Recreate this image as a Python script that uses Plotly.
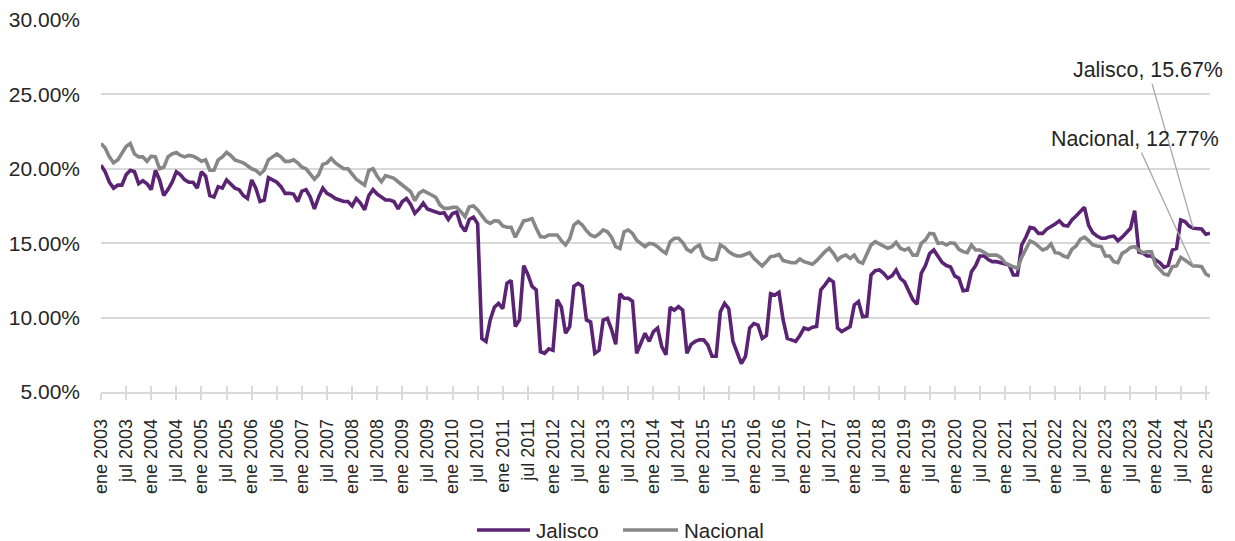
import plotly.graph_objects as go

# ---------------- data (monthly, ene 2003 - feb 2025) ----------------
start_year = 2003
n_months = 266
meses = ["ene", "feb", "mar", "abr", "may", "jun", "jul", "ago", "sep", "oct", "nov", "dic"]
months = [f"{meses[i % 12]} {start_year + i // 12}" for i in range(n_months)]
tick_labels = months[::6]

jalisco = [
    # 2003
    20.25, 19.8, 19.1, 18.7, 18.9, 18.9, 19.6, 19.9, 19.8, 19.0, 19.2, 19.0,
    # 2004
    18.6, 19.9, 19.25, 18.2, 18.6, 19.1, 19.8, 19.6, 19.25, 19.1, 19.1, 18.7,
    # 2005
    19.8, 19.5, 18.2, 18.1, 18.8, 18.7, 19.25, 19.0, 18.7, 18.6, 18.2, 18.0,
    # 2006
    19.25, 18.7, 17.8, 17.9, 19.4, 19.25, 19.1, 18.8, 18.35, 18.35, 18.3, 17.8,
    # 2007
    18.5, 18.6, 18.1, 17.3, 18.1, 18.7, 18.35, 18.2, 18.0, 17.9, 17.8, 17.8,
    # 2008
    17.5, 18.0, 17.7, 17.25, 18.2, 18.6, 18.3, 18.1, 17.9, 17.9, 17.8, 17.3,
    # 2009
    17.8, 18.0, 17.6, 17.0, 17.3, 17.7, 17.3, 17.2, 17.1, 17.0, 17.05, 16.6,
    # 2010
    17.0, 17.1, 16.2, 15.8, 16.6, 16.75, 16.3, 8.6, 8.4, 9.84, 10.7, 10.96,
    # 2011
    10.6, 12.3, 12.5, 9.4, 9.84, 13.5, 12.9, 12.1, 11.86, 7.7, 7.6, 7.9,
    # 2012
    7.8, 11.2, 10.7, 8.95, 9.4, 12.1, 12.3, 12.1, 9.84, 9.7, 7.6, 7.8,
    # 2013
    9.84, 9.95, 9.2, 8.2, 11.6, 11.3, 11.3, 11.1, 7.6, 8.3, 8.95, 8.4,
    # 2014
    9.06, 9.3, 8.05, 7.5, 10.7, 10.5, 10.74, 10.5, 7.6, 8.2, 8.4, 8.5,
    # 2015
    8.5, 8.16, 7.4, 7.4, 10.4, 10.96, 10.6, 8.4, 7.6, 6.9, 7.4, 9.3,
    # 2016
    9.6, 9.5, 8.6, 8.8, 11.6, 11.5, 11.7, 9.84, 8.6, 8.5, 8.4, 8.8,
    # 2017
    9.3, 9.2, 9.35, 9.4, 11.86, 12.2, 12.6, 12.4, 9.3, 9.06, 9.2, 9.4,
    # 2018
    10.85, 11.07, 10.06, 10.1, 12.86, 13.15, 13.2, 12.97, 12.64, 12.8, 13.2, 12.64,
    # 2019
    12.4, 11.86, 11.2, 10.9, 12.97, 13.5, 14.3, 14.54, 14.1, 13.7, 13.5, 13.4,
    # 2020
    12.8, 12.64, 11.8, 11.85, 13.09, 13.5, 14.14, 14.14, 13.9, 13.76, 13.76, 13.7,
    # 2021
    13.65, 13.53, 12.86, 12.86, 14.88, 15.4, 16.06, 16.0, 15.66, 15.66, 15.95, 16.1,
    # 2022
    16.29, 16.5, 16.2, 16.16, 16.56, 16.83, 17.12, 17.41, 16.2, 15.7, 15.48, 15.33,
    # 2023
    15.33, 15.44, 15.48, 15.17, 15.4, 15.7, 16.0, 17.19, 14.4, 14.32, 14.14, 14.14,
    # 2024
    13.87, 13.7, 13.38, 13.5, 14.54, 14.65, 16.56, 16.45, 16.16, 16.0, 16.0, 15.95,
    # 2025
    15.6, 15.67,
]

nacional = [
    # 2003
    21.7, 21.4, 20.8, 20.4, 20.6, 21.1, 21.5, 21.7, 21.0, 20.8, 20.8, 20.5,
    # 2004
    20.85, 20.8, 20.0, 20.1, 20.8, 21.0, 21.1, 20.9, 20.8, 20.9, 20.85, 20.7,
    # 2005
    20.5, 20.6, 19.9, 19.9, 20.6, 20.8, 21.1, 20.9, 20.6, 20.5, 20.4, 20.2,
    # 2006
    20.0, 19.9, 19.65, 19.9, 20.6, 20.8, 21.0, 20.8, 20.5, 20.5, 20.6, 20.4,
    # 2007
    20.1, 20.0, 19.6, 19.3, 19.6, 20.3, 20.4, 20.7, 20.4, 20.2, 20.0, 20.0,
    # 2008
    19.6, 19.3, 19.1, 18.9, 19.9, 20.0, 19.5, 19.13, 19.54, 19.47, 19.36, 19.13,
    # 2009
    18.9, 18.73, 18.46, 17.86, 18.35, 18.53, 18.35, 18.24, 18.08, 17.57, 17.34, 17.34,
    # 2010
    17.41, 17.41, 17.12, 16.78, 17.45, 17.5, 17.23, 16.83, 16.49, 16.33, 16.5, 16.49,
    # 2011
    16.16, 16.07, 16.07, 15.4, 15.89, 16.5, 16.56, 16.65, 16.0, 15.44, 15.4, 15.55,
    # 2012
    15.55, 15.55, 15.17, 14.88, 15.3, 16.22, 16.45, 16.22, 15.84, 15.55, 15.44, 15.62,
    # 2013
    15.89, 15.77, 15.4, 14.77, 14.65, 15.77, 15.89, 15.66, 15.2, 14.95, 14.77, 14.99,
    # 2014
    14.95, 14.77, 14.5, 14.32, 15.1, 15.33, 15.33, 15.04, 14.59, 14.43, 14.72, 14.88,
    # 2015
    14.14, 13.98, 13.87, 13.92, 14.88, 14.72, 14.43, 14.25, 14.14, 14.14, 14.25, 14.36,
    # 2016
    13.98, 13.76, 13.47, 13.76, 14.1, 14.14, 14.25, 13.83, 13.76, 13.69, 13.69, 13.94,
    # 2017
    13.76, 13.65, 13.58, 13.83, 14.14, 14.43, 14.66, 14.32, 13.87, 14.1, 14.2, 13.98,
    # 2018
    14.2, 13.76, 13.65, 14.32, 14.88, 15.1, 14.95, 14.83, 14.66, 14.77, 15.06, 14.66,
    # 2019
    14.54, 14.66, 14.2, 14.2, 14.99, 15.22, 15.66, 15.62, 14.99, 15.03, 14.88, 15.03,
    # 2020
    14.99, 14.59, 14.43, 14.36, 14.88, 14.54, 14.54, 14.39, 14.2, 14.2, 14.2, 14.05,
    # 2021
    13.69, 13.53, 13.42, 13.31, 14.05, 14.65, 15.15, 15.03, 14.77, 14.54, 14.65, 14.95,
    # 2022
    14.36, 14.32, 14.14, 14.05, 14.59, 14.81, 15.26, 15.4, 15.17, 14.88, 14.81, 14.77,
    # 2023
    14.14, 14.14, 13.76, 13.69, 14.32, 14.47, 14.72, 14.77, 14.54, 14.36, 14.43, 14.43,
    # 2024
    13.53, 13.24, 12.93, 12.86, 13.42, 13.47, 14.05, 13.87, 13.69, 13.47, 13.47, 13.42,
    # 2025
    12.93, 12.77,
]

series_names = ["Jalisco", "Nacional"]
colors = ["#5b2374", "#878787"]
y_ticks = [5, 10, 15, 20, 25, 30]

# ---------------- figure ----------------
# the page body has an 8px margin, so the figure is 8px smaller than the window
W, H = 1227, 533
ML, MR, MT, MB = 93, 25, 12, 149
PW, PH = W - ML - MR, H - MT - MB

FONT = "Liberation Sans, Arial, sans-serif"
TXT = "#262626"
GRID = "#d9d9d9"

fig = go.Figure()
for name, vals, col in zip(series_names, [jalisco, nacional], colors):
    fig.add_trace(go.Scatter(
        x=months, y=vals, name=name, mode="lines",
        line=dict(color=col, width=3.6), showlegend=False,
    ))

# data labels with leader lines (pointing a few months before the end, as in the source)
lead_idx = len(months) - 5
for vals, name, axp, ayp in [(jalisco, "Jalisco", -45, -158), (nacional, "Nacional", -58, -127)]:
    fig.add_annotation(
        x=months[lead_idx], y=vals[lead_idx], xref="x", yref="y",
        text=f"{name}, {vals[-1]:.2f}%",
        showarrow=True, arrowhead=0, arrowwidth=1.3, arrowcolor="#a6a6a6",
        ax=axp, ay=ayp, standoff=0, startstandoff=0,
        font=dict(family=FONT, size=21.4, color=TXT),
    )

# legend drawn as line samples + text (long Excel-style samples)
def px_x(p):  # window pixel -> paper x
    return (p - 8 - ML) / PW

def px_y(p):  # window pixel -> paper y
    return (H - MB - (p - 8)) / PH

leg_y = px_y(530)
for name, col, x0, x1 in [(series_names[0], colors[0], 477, 530), (series_names[1], colors[1], 623, 678)]:
    fig.add_shape(type="line", xref="paper", yref="paper",
                  x0=px_x(x0), x1=px_x(x1), y0=leg_y, y1=leg_y,
                  line=dict(color=col, width=3.6))
    fig.add_annotation(xref="paper", yref="paper", x=px_x(x1 + 4), y=leg_y,
                       xanchor="left", yanchor="middle", showarrow=False,
                       text=name, font=dict(family=FONT, size=20.5, color=TXT))

fig.update_layout(
    width=W, height=H,
    margin=dict(l=ML, r=MR, t=MT, b=MB, autoexpand=False),
    paper_bgcolor="white", plot_bgcolor="white",
    font=dict(family=FONT, color=TXT),
    showlegend=False,
)

fig.update_xaxes(
    type="category", range=[0, len(months) - 1],
    tickmode="array", tickvals=tick_labels, ticktext=tick_labels,
    tickangle=-90, tickfont=dict(family=FONT, size=18, color=TXT),
    showgrid=False, showline=True, linecolor=GRID, linewidth=1.5,
    ticks="outside", ticklen=6, tickwidth=1.5, tickcolor=GRID,
    ticklabelstandoff=12,
    zeroline=False,
)
fig.update_yaxes(
    range=[5, 30], tickmode="array", tickvals=y_ticks,
    ticktext=[f"{v:.2f}%" for v in y_ticks],
    tickfont=dict(family=FONT, size=21, color=TXT),
    showgrid=True, gridcolor=GRID, gridwidth=1.5,
    showline=False, zeroline=False, ticks="", ticklabelstandoff=20,
)

# inside half of the crossing tick marks
fig.update_layout(xaxis2=dict(
    overlaying="x", matches="x", type="category", range=[0, len(months) - 1],
    tickmode="array", tickvals=tick_labels, showticklabels=False,
    ticks="inside", ticklen=6, tickwidth=1.5, tickcolor=GRID,
    showgrid=False, showline=False, zeroline=False, anchor="y", side="bottom",
))
fig.add_trace(go.Scatter(x=[months[0]], y=[None], xaxis="x2", showlegend=False,
                         hoverinfo="skip"))

fig.write_html("out.html")
